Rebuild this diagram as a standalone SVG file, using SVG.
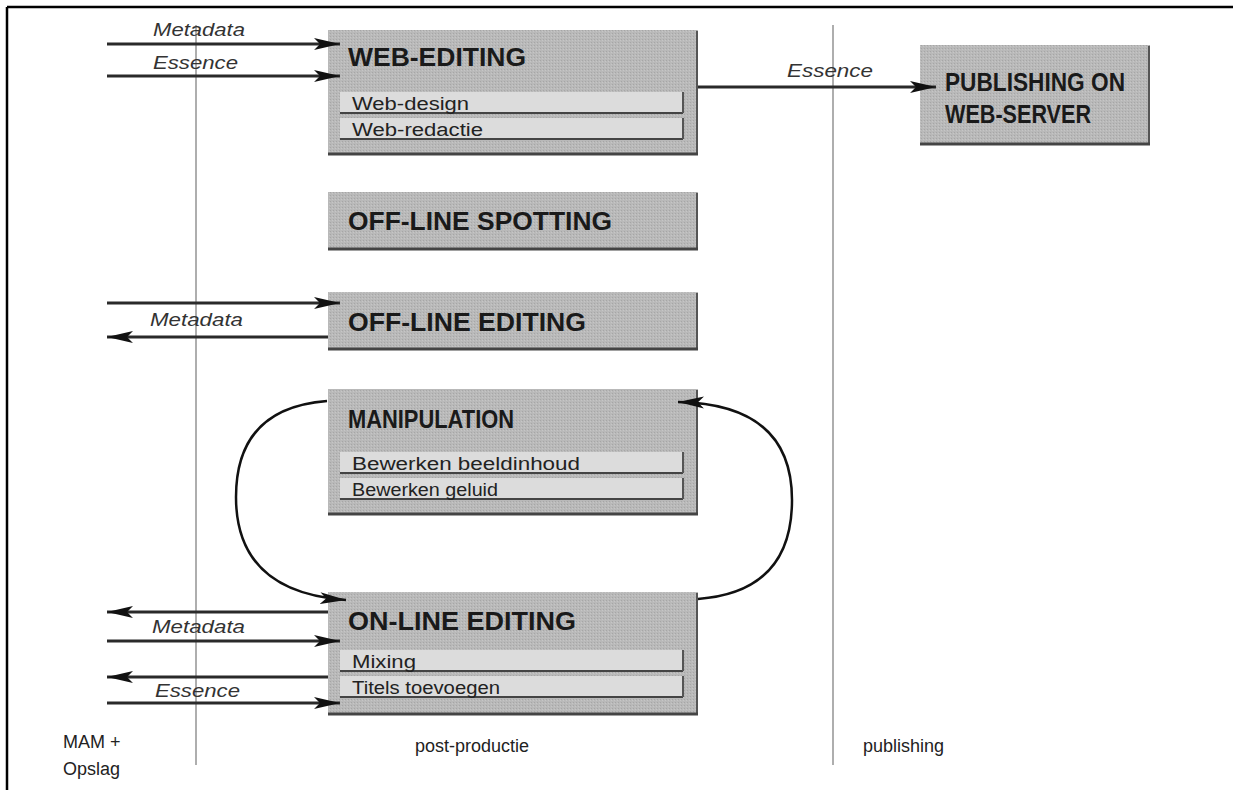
<svg xmlns="http://www.w3.org/2000/svg" width="1233" height="790" viewBox="0 0 1233 790">
<defs>
<style>
.box{fill:url(#stip);}
.shadowB{stroke:#444;stroke-width:3;}
.shadowR{stroke:#555;stroke-width:2;}
.bar{fill:#dcdcdc;}
.barline{stroke:#444;stroke-width:2;}
.title{font-family:"Liberation Sans",Arial,sans-serif;font-weight:bold;font-size:25px;fill:#1a1a1a;}
.sub{font-family:"Liberation Sans",Arial,sans-serif;font-size:18px;fill:#222;}
.lbl{font-family:"Liberation Sans",Arial,sans-serif;font-style:italic;font-size:19px;fill:#333;}
.foot{font-family:"Liberation Sans",Arial,sans-serif;font-size:18px;fill:#222;}
.arr{stroke:#2a2a2a;stroke-width:3;fill:none;}
.arc{stroke:#111;stroke-width:2.5;fill:none;}
.lane{stroke:#9a9a9a;stroke-width:1.6;}
</style>
<pattern id="stip" width="3" height="3" patternUnits="userSpaceOnUse">
<rect width="3" height="3" fill="#b9b9b9"/>
<rect width="1" height="1" fill="#a6a6a6"/>
<rect x="2" y="1" width="1" height="1" fill="#c6c6c6"/>
</pattern>
<marker id="ah" markerWidth="28" markerHeight="14" refX="26" refY="7" orient="auto" markerUnits="userSpaceOnUse">
<path d="M0,1 L26,7 L0,13 L6,7 z" fill="#111"/>
</marker>
</defs>
<rect width="1233" height="790" fill="#fff"/>
<g id="frame">
<line x1="7" y1="7" x2="1233" y2="7" stroke="#000" stroke-width="2.5"/>
<line x1="7" y1="7" x2="7" y2="790" stroke="#000" stroke-width="2.5"/>
<line class="lane" x1="196" y1="25" x2="196" y2="765"/>
<line class="lane" x1="833" y1="25" x2="833" y2="765"/>
</g>
<g id="web-editing">
<rect class="box" x="328" y="30" width="370" height="125"/>
<line class="shadowR" x1="697" y1="31" x2="697" y2="155"/>
<line class="shadowB" x1="328" y1="154" x2="698" y2="154"/>
<text class="title" x="348" y="66" textLength="178" lengthAdjust="spacingAndGlyphs">WEB-EDITING</text>
<rect class="bar" x="340" y="92" width="343" height="21"/>
<line class="barline" x1="340" y1="113" x2="683" y2="113"/>
<line class="shadowR" x1="683" y1="92" x2="683" y2="113"/>
<text class="sub" x="352" y="110" textLength="117" lengthAdjust="spacingAndGlyphs">Web-design</text>
<rect class="bar" x="340" y="118" width="343" height="21"/>
<line class="barline" x1="340" y1="139" x2="683" y2="139"/>
<line class="shadowR" x1="683" y1="118" x2="683" y2="139"/>
<text class="sub" x="352" y="136" textLength="131" lengthAdjust="spacingAndGlyphs">Web-redactie</text>
</g>
<g id="publishing">
<rect class="box" x="920" y="45" width="230" height="100"/>
<line class="shadowR" x1="1149" y1="46" x2="1149" y2="145"/>
<line class="shadowB" x1="920" y1="144" x2="1150" y2="144"/>
<text class="title" x="945" y="91" textLength="180" lengthAdjust="spacingAndGlyphs">PUBLISHING ON</text>
<text class="title" x="945" y="123" textLength="146" lengthAdjust="spacingAndGlyphs">WEB-SERVER</text>
</g>
<g id="off-line-spotting">
<rect class="box" x="328" y="192" width="370" height="58"/>
<line class="shadowR" x1="697" y1="193" x2="697" y2="250"/>
<line class="shadowB" x1="328" y1="249" x2="698" y2="249"/>
<text class="title" x="348" y="230" textLength="264" lengthAdjust="spacingAndGlyphs">OFF-LINE SPOTTING</text>
</g>
<g id="off-line-editing">
<rect class="box" x="328" y="292" width="370" height="58"/>
<line class="shadowR" x1="697" y1="293" x2="697" y2="350"/>
<line class="shadowB" x1="328" y1="349" x2="698" y2="349"/>
<text class="title" x="348" y="331" textLength="238" lengthAdjust="spacingAndGlyphs">OFF-LINE EDITING</text>
</g>
<g id="manipulation">
<rect class="box" x="328" y="389" width="370" height="126"/>
<line class="shadowR" x1="697" y1="390" x2="697" y2="515"/>
<line class="shadowB" x1="328" y1="514" x2="698" y2="514"/>
<text class="title" x="348" y="428" textLength="166" lengthAdjust="spacingAndGlyphs">MANIPULATION</text>
<rect class="bar" x="340" y="452" width="343" height="21"/>
<line class="barline" x1="340" y1="473" x2="683" y2="473"/>
<line class="shadowR" x1="683" y1="452" x2="683" y2="473"/>
<text class="sub" x="352" y="470" textLength="228" lengthAdjust="spacingAndGlyphs">Bewerken beeldinhoud</text>
<rect class="bar" x="340" y="478" width="343" height="21"/>
<line class="barline" x1="340" y1="499" x2="683" y2="499"/>
<line class="shadowR" x1="683" y1="478" x2="683" y2="499"/>
<text class="sub" x="352" y="496" textLength="146" lengthAdjust="spacingAndGlyphs">Bewerken geluid</text>
</g>
<g id="on-line-editing">
<rect class="box" x="328" y="592" width="370" height="123"/>
<line class="shadowR" x1="697" y1="593" x2="697" y2="715"/>
<line class="shadowB" x1="328" y1="714" x2="698" y2="714"/>
<text class="title" x="348" y="630" textLength="228" lengthAdjust="spacingAndGlyphs">ON-LINE EDITING</text>
<rect class="bar" x="340" y="650" width="343" height="21"/>
<line class="barline" x1="340" y1="671" x2="683" y2="671"/>
<line class="shadowR" x1="683" y1="650" x2="683" y2="671"/>
<text class="sub" x="352" y="668" textLength="64" lengthAdjust="spacingAndGlyphs">Mixing</text>
<rect class="bar" x="340" y="676" width="343" height="21"/>
<line class="barline" x1="340" y1="697" x2="683" y2="697"/>
<line class="shadowR" x1="683" y1="676" x2="683" y2="697"/>
<text class="sub" x="352" y="694" textLength="148" lengthAdjust="spacingAndGlyphs">Titels toevoegen</text>
</g>
<g id="connectors">
<line class="arr" x1="107" y1="44" x2="340" y2="44" marker-end="url(#ah)"/>
<line class="arr" x1="107" y1="76" x2="340" y2="76" marker-end="url(#ah)"/>
<line class="arr" x1="698" y1="87" x2="936" y2="87" marker-end="url(#ah)"/>
<line class="arr" x1="107" y1="303" x2="340" y2="303" marker-end="url(#ah)"/>
<line class="arr" x1="328" y1="337" x2="107" y2="337" marker-end="url(#ah)"/>
<line class="arr" x1="328" y1="612" x2="107" y2="612" marker-end="url(#ah)"/>
<line class="arr" x1="107" y1="641" x2="340" y2="641" marker-end="url(#ah)"/>
<line class="arr" x1="328" y1="677" x2="107" y2="677" marker-end="url(#ah)"/>
<line class="arr" x1="107" y1="703" x2="340" y2="703" marker-end="url(#ah)"/>
<path class="arc" d="M327,401 Q236,408 236,497 Q236,592 346,600" marker-end="url(#ah)"/>
<path class="arc" d="M698,599 Q792,592 792,500 Q792,404 678,402" marker-end="url(#ah)"/>
<text class="lbl" x="153" y="36" textLength="92" lengthAdjust="spacingAndGlyphs">Metadata</text>
<text class="lbl" x="153" y="69" textLength="85" lengthAdjust="spacingAndGlyphs">Essence</text>
<text class="lbl" x="787" y="77" textLength="86" lengthAdjust="spacingAndGlyphs">Essence</text>
<text class="lbl" x="150" y="326" textLength="93" lengthAdjust="spacingAndGlyphs">Metadata</text>
<text class="lbl" x="152" y="633" textLength="93" lengthAdjust="spacingAndGlyphs">Metadata</text>
<text class="lbl" x="155" y="697" textLength="85" lengthAdjust="spacingAndGlyphs">Essence</text>
</g>
<g id="lane-labels">
<text class="foot" x="63" y="748">MAM +</text>
<text class="foot" x="63" y="775">Opslag</text>
<text class="foot" x="415" y="752">post-productie</text>
<text class="foot" x="863" y="752">publishing</text>
</g>
</svg>
